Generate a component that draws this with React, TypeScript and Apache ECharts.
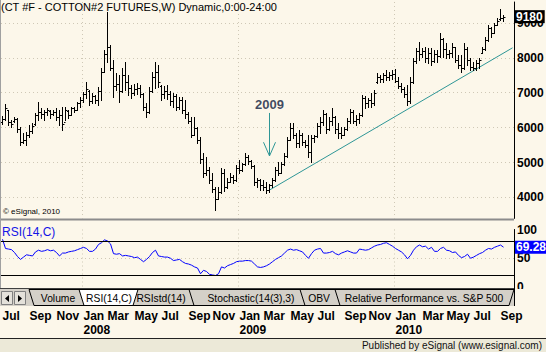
import React, { useEffect, useRef } from "react";
import * as echarts from "echarts";

const TITLE = "(CT #F - COTTON#2 FUTURES,W) Dynamic,0:00-24:00";
const FONT = '"Liberation Sans", Arial, Helvetica, sans-serif';
const BG = "#fcf7ea";
const DOT = "#cfc8b6";
const TEAL = "#2e9696";

// first weekly bar (Monday of the week), plus empty weeks kept on the right
const FIRST_WEEK_UTC = Date.UTC(2007, 5, 25);
const EMPTY_WEEKS_AFTER = 3;
const MONTHS = ["Jan", "Feb", "Mar", "Apr", "May", "Jun", "Jul", "Aug", "Sep", "Oct", "Nov", "Dec"];

// weekly OHLC (cents * 100)
const opens = [
  6150, 6250, 6500, 6150, 6180, 6250, 5950, 5600, 5650, 5800,
  5900, 6100, 6350, 6450, 6400, 6450, 6480, 6400, 6450, 6300,
  6350, 6150, 6480, 6350, 6550, 6520, 6700, 6800, 6950, 7050,
  6750, 6900, 6800, 7050, 7600, 8100, 8300, 7700, 7200, 7250,
  7050, 7500, 7300, 7150, 7000, 7100, 7150, 6950, 6600, 6450,
  7050, 7450, 7600, 7200, 6950, 7050, 6950, 6750, 6900, 6600,
  6800, 6500, 6400, 6200, 5800, 6000, 5650, 5100, 4700, 4800,
  4500, 4250, 3950, 4150, 4700, 4300, 4450, 4600, 4500, 4850,
  4800, 4950, 5150, 5050, 4900, 4450, 4500, 4350, 4300, 4200,
  4350, 4500, 4800, 4700, 4950, 5200, 5650, 6000, 5800, 5550,
  5800, 5600, 5500, 5300, 5700, 5750, 6050, 6150, 6400, 5950,
  6200, 6300, 5950, 5850, 5800, 5950, 6200, 6450, 6200, 6250,
  6350, 6850, 6700, 6800, 6700, 7300, 7450, 7400, 7500, 7450,
  7500, 7550, 7350, 7200, 7100, 6950, 6750, 7300, 7900, 8200,
  8100, 8200, 8000, 8150, 7900, 8100, 8050, 8550, 8250, 8100,
  8150, 8300, 7950, 7800, 7700, 8250, 7950, 7750, 7700, 7850,
  8150, 8250, 8500, 8850, 8700, 8950, 9100, 9150,
];
const highs = [
  6330, 6670, 6507, 6221, 6310, 6278, 6020, 5848, 5876, 6077,
  6135, 6421, 6736, 6564, 6507, 6564, 6507, 6507, 6564, 6507,
  6593, 6593, 6507, 6593, 6593, 6736, 6880, 7023, 7310, 7080,
  6994, 6937, 7166, 7711, 8226, 9300, 8370, 7940, 7567, 7510,
  7711, 7883, 7510, 7223, 7250, 7280, 7223, 6994, 6708, 7166,
  7596, 7883, 7797, 7223, 7200, 7223, 7050, 6994, 6950, 6880,
  6880, 6794, 6450, 6307, 6307, 6020, 5733, 5275, 5160, 4874,
  4702, 4301, 4301, 4845, 4816, 4559, 4702, 4650, 4931, 5074,
  5000, 5275, 5218, 5074, 4920, 4559, 4540, 4501, 4444, 4387,
  4559, 4874, 5017, 5017, 5275, 5733, 6135, 6135, 5850, 5934,
  5850, 5648, 5791, 5791, 5791, 6135, 6307, 6507, 6420, 6307,
  6564, 6320, 6135, 6020, 6020, 6278, 6535, 6507, 6364, 6421,
  6937, 6900, 6850, 6994, 7080, 7567, 7510, 7567, 7653, 7600,
  7653, 7682, 7453, 7281, 7166, 7223, 7453, 7997, 8284, 8456,
  8284, 8313, 8284, 8284, 8226, 8226, 8714, 8560, 8427, 8226,
  8427, 8320, 8083, 8083, 8427, 8313, 7997, 7883, 7940, 7997,
  8313, 8599, 8943, 8885, 9000, 9143, 9401, 9229,
];
const lows = [
  6100, 6220, 6077, 6020, 6160, 5876, 5504, 5562, 5504, 5733,
  5848, 6077, 6221, 6278, 6221, 6364, 6278, 6364, 6221, 6077,
  5934, 6221, 6278, 6364, 6450, 6507, 6593, 6736, 6851, 6650,
  6708, 6708, 6650, 6794, 7596, 7880, 7653, 6880, 7080, 6736,
  7023, 7080, 6937, 6851, 6940, 6960, 6880, 6507, 6307, 6421,
  7023, 7138, 7166, 6794, 6851, 6830, 6650, 6593, 6507, 6540,
  6421, 6278, 6135, 5733, 5780, 5560, 4990, 4590, 4645, 4415,
  4158, 3642, 3950, 4129, 4187, 4280, 4444, 4415, 4480, 4702,
  4760, 4931, 4960, 4845, 4358, 4301, 4215, 4215, 4129, 4158,
  4301, 4480, 4645, 4690, 4940, 5160, 5648, 5700, 5447, 5447,
  5500, 5447, 5160, 5017, 5590, 5740, 5848, 6077, 5848, 5934,
  6077, 5848, 5705, 5705, 5790, 5940, 6135, 6135, 6077, 6135,
  6340, 6564, 6594, 6593, 6650, 7281, 7310, 7310, 7367, 7367,
  7400, 7310, 7138, 7023, 6880, 6650, 6708, 7290, 7854, 7940,
  8026, 7883, 7854, 7797, 7890, 7883, 8026, 8026, 7997, 7997,
  8026, 7880, 7711, 7596, 7690, 7797, 7653, 7653, 7653, 7711,
  8140, 8226, 8490, 8599, 8700, 8943, 9086, 9057,
];
const closes = [
  6250, 6550, 6150, 6100, 6250, 5950, 5600, 5650, 5800, 5900,
  6050, 6350, 6450, 6400, 6450, 6500, 6400, 6450, 6300, 6350,
  6100, 6500, 6350, 6550, 6500, 6700, 6800, 6950, 7100, 6750,
  6900, 6800, 7050, 7600, 8100, 8300, 7700, 7200, 7250, 7050,
  7500, 7300, 7150, 7000, 7100, 7150, 6950, 6600, 6450, 7050,
  7450, 7600, 7300, 6950, 7050, 6950, 6750, 6900, 6600, 6800,
  6500, 6400, 6200, 5800, 6000, 5650, 5100, 4700, 4800, 4500,
  4250, 3950, 4150, 4700, 4300, 4450, 4600, 4500, 4850, 4800,
  4950, 5150, 5050, 4900, 4450, 4500, 4350, 4300, 4200, 4350,
  4500, 4800, 4700, 4950, 5200, 5650, 6000, 5800, 5550, 5800,
  5600, 5500, 5300, 5700, 5750, 6050, 6150, 6400, 5950, 6200,
  6300, 5950, 5850, 5800, 5950, 6200, 6450, 6200, 6250, 6350,
  6850, 6700, 6800, 6700, 7000, 7450, 7400, 7500, 7450, 7500,
  7550, 7350, 7200, 7100, 6950, 6750, 7300, 7900, 8200, 8100,
  8200, 8000, 8150, 7900, 8100, 8050, 8550, 8250, 8100, 8150,
  8300, 7950, 7800, 7700, 8250, 7950, 7750, 7700, 7850, 7950,
  8250, 8500, 8850, 8700, 8950, 9050, 9150, 9180,
];

// RSI(14,C) per week
const rsiValues = [
  83, 67, 66, 65, 60, 53, 48, 52, 56, 55,
  54, 61, 64, 62, 63, 65, 63, 64, 60, 54,
  59, 59, 61, 62, 63, 65, 67, 69, 67, 62,
  62, 66, 74, 77, 82, 80, 75, 58, 57, 58,
  54, 55, 54, 53, 51, 52, 48, 44, 48, 53,
  60, 64, 54, 53, 52, 52, 50, 46, 47, 48,
  44, 41, 40, 38, 35, 33, 23, 29, 27, 22,
  21, 20, 23, 35, 33, 37, 39, 41, 44, 45,
  45, 46, 46, 45, 40, 35, 34, 35, 37, 40,
  44, 48, 51, 54, 59, 64, 66, 64, 65, 63,
  61, 55, 50, 58, 64, 66, 67, 59, 59, 60,
  62, 58, 56, 59, 61, 63, 61, 59, 59, 66,
  65, 64, 65, 68, 71, 73, 74, 76, 77, 74,
  71, 67, 64, 61, 56, 49, 55, 64, 70, 73,
  70, 71, 66, 69, 62, 62, 67, 69, 64, 63,
  60, 61, 55, 51, 53, 57, 50, 52, 55, 58,
  60, 64, 67, 66, 69, 71, 73, 69.28,
];

// drawn annotations, in (week index, price)
const trendLine = [[89, 4212], [170, 8287]];
const arrowShaft = [[89, 6421], [89, 5189]];
const arrowHead = [[87, 5582], [89, 5189], [91, 5582]];
const annotationText = "2009";
const rsiBands = [80, 20];
const lastPrice = 9180;
const lastRsi = 69.28;

const tabShapes = [
  { x0: 29, x1: 89, selected: false },
  { x0: 128, x1: 199, selected: false },
  { x0: 189, x1: 310, selected: false },
  { x0: 300, x1: 345, selected: false },
  { x0: 335, x1: 514, selected: false },
  { x0: 79, x1: 138, selected: true },
];
const tabLabels = [
  { label: "Volume", cx: 58 },
  { label: "RSI(14,C)", cx: 109 },
  { label: "RSIstd(14)", cx: 161 },
  { label: "Stochastic(14(3),3)", cx: 251 },
  { label: "OBV", cx: 319 },
  { label: "Relative Performance vs. S&P 500", cx: 424 },
];

function buildWeeks(): string[] {
  const n = opens.length + EMPTY_WEEKS_AFTER;
  const out: string[] = [];
  for (let i = 0; i < n; i++) {
    out.push(new Date(FIRST_WEEK_UTC + i * 7 * 86400000).toISOString().slice(0, 10));
  }
  return out;
}

function monthStartIn(week: string): { month: number; year: number } | null {
  const t0 = Date.parse(week + "T00:00:00Z");
  for (let i = 0; i < 7; i++) {
    const d = new Date(t0 + i * 86400000);
    if (d.getUTCDate() === 1) return { month: d.getUTCMonth(), year: d.getUTCFullYear() };
  }
  return null;
}

function buildOption(): any {
  const weeks = buildWeeks();
  const labelInterval = (_i: number, v: string) => {
    const m = monthStartIn(v);
    return !!m && m.month % 2 === 0;
  };
  const janInterval = (_i: number, v: string) => {
    const m = monthStartIn(v);
    return !!m && m.month === 0;
  };
  const labelFormatter = (v: string) => {
    const m = monthStartIn(v);
    if (!m) return "";
    return m.month === 0 ? `Jan\n${m.year}` : MONTHS[m.month];
  };
  const dotted = { color: DOT, width: 1, type: [1, 3] };
  const axisText = { color: "#000", fontWeight: "bold", fontSize: 12, fontFamily: FONT };
  const plain = (v: number) => String(v);

  const xBase = (gridIndex: number) => ({
    type: "category",
    gridIndex,
    data: weeks,
    boundaryGap: true,
    axisLine: { show: false },
    axisTick: { show: false },
    splitLine: { show: true, interval: janInterval, lineStyle: dotted },
  });

  const ohlc = opens.map((o, i) => [i, o, highs[i], lows[i], closes[i]]);

  const tabGraphics: any[] = tabShapes.map((t) => {
    const top = 289.5;
    const bot = 305.5;
    return {
      type: "polygon",
      z: 20,
      shape: { points: [[t.x0, top], [t.x1, top], [t.x1 - 5, bot], [t.x0 + 5, bot]] },
      style: { fill: t.selected ? "#ffffff" : "#d4d0c8", stroke: "#000", lineWidth: 1 },
    };
  });
  const tabText = tabLabels.map((t) => ({
    type: "text",
    z: 21,
    x: t.cx,
    y: 298,
    style: { text: t.label, fontSize: 10.3, fontFamily: FONT, fill: "#000", align: "center", verticalAlign: "middle" },
  }));

  const graphic = [
    { type: "rect", z: 10, shape: { x: 0, y: 218.5, width: 514, height: 2 }, style: { fill: "#8c8c8c" } },
    { type: "line", z: 10, shape: { x1: 0.5, y1: 0, x2: 0.5, y2: 289 }, style: { stroke: "#a0a0a0", lineWidth: 1 } },
    {
      type: "text", z: 10, x: 1, y: 1,
      style: { text: TITLE, fontSize: 11, fontFamily: FONT, fill: "#000", align: "left", verticalAlign: "top" },
    },
    {
      type: "text", z: 10, x: 3, y: 207,
      style: { text: "\u00a9 eSignal, 2010", fontSize: 8, fontFamily: FONT, fill: "#000", align: "left", verticalAlign: "top" },
    },
    {
      type: "text", z: 10, x: 2, y: 226,
      style: { text: "RSI(14,C)", fontSize: 12, fontFamily: FONT, fill: "#1414e6", align: "left", verticalAlign: "top" },
    },
    // tab strip
    { type: "rect", z: 18, shape: { x: 0, y: 288, width: 514, height: 18 }, style: { fill: "#d4d0c8" } },
    { type: "rect", z: 18, shape: { x: 514, y: 289, width: 32, height: 17 }, style: { fill: BG } },
    { type: "line", z: 19, shape: { x1: 0, y1: 288.5, x2: 514, y2: 288.5 }, style: { stroke: "#404040", lineWidth: 1 } },
    { type: "line", z: 19, shape: { x1: 514.5, y1: 286, x2: 514.5, y2: 306 }, style: { stroke: "#000", lineWidth: 1 } },
    { type: "rect", z: 19, shape: { x: 1.5, y: 291.5, width: 11, height: 13 }, style: { fill: "#e4e1da", stroke: "#808080", lineWidth: 1 } },
    { type: "rect", z: 19, shape: { x: 14.5, y: 291.5, width: 11, height: 13 }, style: { fill: "#e4e1da", stroke: "#808080", lineWidth: 1 } },
    { type: "polygon", z: 20, shape: { points: [[9, 295], [9, 302], [5, 298.5]] }, style: { fill: "#000" } },
    { type: "polygon", z: 20, shape: { points: [[18, 295], [18, 302], [22, 298.5]] }, style: { fill: "#000" } },
    ...tabGraphics,
    ...tabText,
    // status bar
    { type: "line", z: 10, shape: { x1: 0, y1: 338.5, x2: 546, y2: 338.5 }, style: { stroke: "#222", lineWidth: 1 } },
    { type: "rect", z: 10, shape: { x: 0, y: 339, width: 546, height: 13 }, style: { fill: "#ece9d8" } },
    {
      type: "text", z: 11, x: 542, y: 345.5,
      style: { text: "Published by eSignal (www.esignal.com)", fontSize: 10, fontFamily: FONT, fill: "#111", align: "right", verticalAlign: "middle" },
    },
  ];

  const hiddenLine = { color: "rgba(0,0,0,0)", width: 0 };

  return {
    animation: false,
    backgroundColor: BG,
    textStyle: { fontFamily: FONT },
    grid: [
      { left: 1, right: 32, top: 2, height: 216.4, containLabel: false, outerBoundsMode: "none" },
      { left: 1, right: 32, top: 229.5, height: 57.5, containLabel: false, outerBoundsMode: "none" },
    ],
    xAxis: [
      { ...xBase(0), axisLabel: { show: false } },
      {
        ...xBase(1),
        axisLabel: {
          show: true, interval: labelInterval, formatter: labelFormatter, align: "left",
          margin: 22, lineHeight: 14, ...axisText,
        },
      },
    ],
    yAxis: [
      {
        type: "value", gridIndex: 0, position: "right", min: 3400, max: 9600,
        axisLine: { show: true, onZero: false, lineStyle: { color: "#000", width: 1 } },
        axisTick: { show: false },
        axisLabel: { show: true, margin: 3, showMinLabel: false, showMaxLabel: false, formatter: plain, ...axisText },
        splitLine: { show: true, showMinLine: false, showMaxLine: false, lineStyle: dotted },
      },
      {
        type: "value", gridIndex: 1, position: "right", min: 0, max: 100, interval: 50,
        axisLine: { show: true, onZero: false, lineStyle: { color: "#000", width: 1 } },
        axisTick: { show: false },
        axisLabel: { show: true, margin: 3, showMinLabel: true, showMaxLabel: true, formatter: plain, ...axisText },
        splitLine: { show: true, showMinLine: false, showMaxLine: false, lineStyle: dotted },
      },
    ],
    series: [
      {
        type: "line", name: "trend", xAxisIndex: 0, yAxisIndex: 0, data: trendLine,
        showSymbol: false, symbol: "none", silent: true, z: 3,
        lineStyle: { color: TEAL, width: 1 },
      },
      {
        type: "custom", name: "CT #F", xAxisIndex: 0, yAxisIndex: 0, data: ohlc, z: 4,
        encode: { x: 0, y: [1, 2, 3, 4] },
        renderItem: (_params: any, api: any) => {
          const idx = api.value(0);
          const h = api.coord([idx, api.value(2)]);
          const l = api.coord([idx, api.value(3)]);
          const o = api.coord([idx, api.value(1)]);
          const c = api.coord([idx, api.value(4)]);
          const cx = Math.floor(h[0]) + 0.5;
          const yo = Math.round(o[1]) + 0.5;
          const yc = Math.round(c[1]) + 0.5;
          const st = { stroke: "#000", lineWidth: 1 };
          return {
            type: "group",
            children: [
              { type: "line", shape: { x1: cx, y1: Math.round(h[1]), x2: cx, y2: Math.round(l[1]) + 1 }, style: st },
              { type: "line", shape: { x1: cx - 1.5, y1: yo, x2: cx, y2: yo }, style: st },
              { type: "line", shape: { x1: cx, y1: yc, x2: cx + 2, y2: yc }, style: st },
            ],
          };
        },
        markLine: {
          silent: true, symbol: ["none", "none"], z: 10,
          data: [
            {
              yAxis: lastPrice,
              lineStyle: hiddenLine,
              label: {
                show: true, position: "end", distance: 1, formatter: String(lastPrice),
                color: "#fff", backgroundColor: "#000", padding: [1, 2, 0, 1],
                fontWeight: "bold", fontSize: 12, fontFamily: FONT,
              },
            },
          ],
        },
      },
      {
        type: "line", name: "arrow", xAxisIndex: 0, yAxisIndex: 0, data: arrowShaft,
        showSymbol: false, symbol: "none", silent: true, z: 5, lineStyle: { color: TEAL, width: 1 },
      },
      {
        type: "line", name: "arrowHead", xAxisIndex: 0, yAxisIndex: 0, data: arrowHead,
        showSymbol: false, symbol: "none", silent: true, z: 5, lineStyle: { color: TEAL, width: 1 },
      },
      {
        type: "scatter", name: "note", xAxisIndex: 0, yAxisIndex: 0, data: [arrowShaft[0]],
        symbolSize: 1, silent: true, z: 6, itemStyle: { color: "rgba(0,0,0,0)" },
        label: {
          show: true, position: "top", distance: 1, formatter: annotationText,
          color: "#0d1a3d", fontWeight: "bold", fontSize: 13, fontFamily: FONT,
        },
      },
      {
        type: "line", name: "RSI(14,C)", xAxisIndex: 1, yAxisIndex: 1, data: rsiValues,
        showSymbol: false, symbol: "none", silent: true, z: 4,
        lineStyle: { color: "#0000ff", width: 1 },
        markLine: {
          silent: true, symbol: ["none", "none"],
          data: [
            ...rsiBands.map((b) => ({ yAxis: b, lineStyle: { color: "#000", width: 1, type: "solid" }, label: { show: false } })),
            {
              yAxis: lastRsi,
              lineStyle: hiddenLine,
              label: {
                show: true, position: "end", distance: 1, formatter: String(lastRsi),
                color: "#fff", backgroundColor: "#0000ff", padding: [1, 1, 0, 1],
                fontWeight: "bold", fontSize: 12, fontFamily: FONT,
              },
            },
          ],
        },
      },
    ],
    graphic,
  };
}

export default function App() {
  const ref = useRef<HTMLDivElement>(null);
  useEffect(() => {
    if (!ref.current) return;
    const chart = echarts.init(ref.current, null, { renderer: "svg" });
    chart.setOption(buildOption());
    return () => chart.dispose();
  }, []);
  return <div ref={ref} style={{ position: "fixed", left: 0, top: 0, width: 546, height: 352 }} />;
}
